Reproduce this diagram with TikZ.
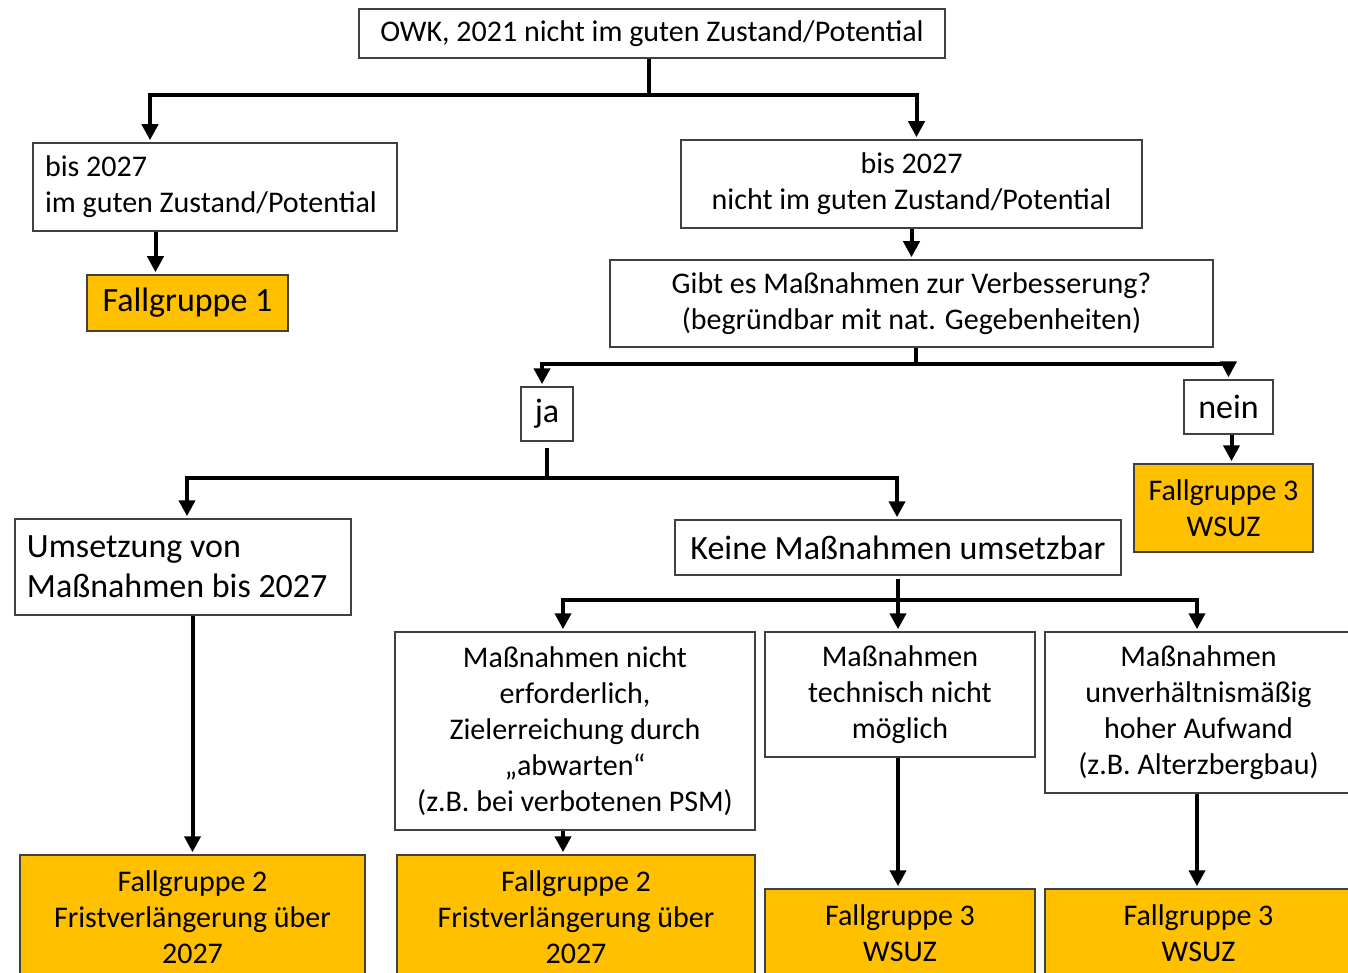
\documentclass[tikz,border=0pt]{standalone}
\usepackage{fontspec}
\setmainfont{Carlito}
\usetikzlibrary{arrows.meta,positioning,calc}
\definecolor{gold}{HTML}{FFC000}
\tikzset{
  box/.style={draw=black!75, line width=1.5pt, inner sep=0pt, align=center,
    font=\fontsize{30}{36}\selectfont},
  fall/.style={box, fill=gold},
  big/.style={font=\fontsize{34}{40}\selectfont},
  conn/.style={line width=4pt},
  arr/.style={conn, shorten >=2pt, -{Triangle[length=16pt,width=16pt]}}
}

\begin{document}
\begin{tikzpicture}[x=1pt,y=1pt]
\useasboundingbox (0,0) rectangle (1348,-973);
\clip (0,0) rectangle (1348,-973);

% Upper part
\node[box, minimum width=586pt, minimum height=49pt] (top) at (652,-33.5) {OWK, 2021 nicht im guten Zustand/Potential};
\node[box, align=flush left, inner xsep=12pt, text width=340pt, minimum height=88pt] (gut) at (215,-187) {bis 2027\\im guten Zustand/Potential};
\node[fall, big, minimum width=201pt, minimum height=56pt] (fg1) at (187.5,-303) {Fallgruppe 1};
\node[box, minimum width=461pt, minimum height=88pt] (nichtgut) at (911.5,-184) {bis 2027\\nicht im guten Zustand/Potential};
\node[box, minimum width=603pt, minimum height=87pt] (frage) at (911.5,-303.5) {Gibt es Maßnahmen zur Verbesserung?\\(begründbar mit nat. Gegebenheiten)};

% ja / nein
\node[box, big, minimum width=52pt, minimum height=54pt] (ja) at (547,-414) {ja};
\node[box, big, minimum width=89pt, minimum height=54pt] (nein) at (1228.5,-407) {nein};
\node[fall, minimum width=179pt, minimum height=88pt] (fg3a) at (1223.5,-508) {Fallgruppe 3\\WSUZ};

% Middle
\node[box, big, align=flush left, inner xsep=12pt, text width=312pt, minimum height=96pt] (umsetz) at (183,-567) {Umsetzung von\\Maßnahmen bis 2027};
\node[box, big, minimum width=446pt, minimum height=55pt] (keine) at (898,-547.5) {Keine Maßnahmen umsetzbar};

% Reasons
\node[box, minimum width=360pt, minimum height=198pt] (abw) at (575,-731) {Maßnahmen nicht\\erforderlich,\\Zielerreichung durch\\„abwarten“\\(z.B. bei verbotenen PSM)};
\node[box, minimum width=270pt, minimum height=125pt] (tech) at (900,-694.5) {Maßnahmen\\technisch nicht\\möglich};
\node[box, minimum width=307pt, minimum height=161pt] (aufw) at (1198.5,-712.5) {Maßnahmen\\unverhältnismäßig\\hoher Aufwand\\(z.B. Alterzbergbau)};

% Bottom
\node[fall, minimum width=345pt, minimum height=124pt] (fg2a) at (192.5,-917) {Fallgruppe 2\\Fristverlängerung über\\2027};
\node[fall, minimum width=358pt, minimum height=124pt] (fg2b) at (576,-917) {Fallgruppe 2\\Fristverlängerung über\\2027};
\node[fall, minimum width=270pt, minimum height=88pt] (fg3b) at (900,-933) {Fallgruppe 3\\WSUZ};
\node[fall, minimum width=307pt, minimum height=88pt] (fg3c) at (1198.5,-933) {Fallgruppe 3\\WSUZ};

% Connectors
\coordinate (bar1) at (649,-95);
\draw[conn] (top.south -| bar1) -- (bar1);
\draw[arr] (bar1) -| ([xshift=-65pt]gut.north);
\draw[arr] (bar1) -| ([xshift=5pt]nichtgut.north);
\draw[arr] ([xshift=-32pt]fg1.north |- gut.south) -- ([xshift=-32pt]fg1.north);
\draw[arr] (nichtgut.south -| frage.north) -- (frage.north);

\coordinate (bar2) at (916,-364);
\draw[conn] (frage.south -| bar2) -- (bar2);
\draw[arr] (bar2) -| ([xshift=-5pt]ja.north);
\draw[arr] (bar2) -| (nein.north);
\draw[arr] ([xshift=3pt]nein.south) -- ([xshift=3pt]nein.south |- fg3a.north);

\coordinate (bar3) at (547,-478);
\draw[conn] ([yshift=-6pt]ja.south) -- (bar3);
\draw[arr] (bar3) -| ([xshift=4pt]umsetz.north);
\draw[arr] (bar3) -| ([xshift=-1pt]keine.north);
\draw[arr] (umsetz.south -| fg2a.north) -- (fg2a.north);

\coordinate (bar4) at (898,-600);
\draw[conn] ([yshift=-3pt]keine.south) -- (bar4);
\draw[arr] (bar4) -| ([xshift=-12pt]abw.north);
\draw[arr] (bar4) -| ([xshift=-2pt]tech.north);
\draw[arr] (bar4) -| ([xshift=-1.5pt]aufw.north);
\draw[arr] ([xshift=-12pt]abw.south) -- ([xshift=-12pt]abw.south |- fg2b.north);
\draw[arr] ([xshift=-2pt]tech.south) -- ([xshift=-2pt]tech.south |- fg3b.north);
\draw[arr] ([xshift=-1.5pt]aufw.south) -- ([xshift=-1.5pt]aufw.south |- fg3c.north);
\end{tikzpicture}
\end{document}
